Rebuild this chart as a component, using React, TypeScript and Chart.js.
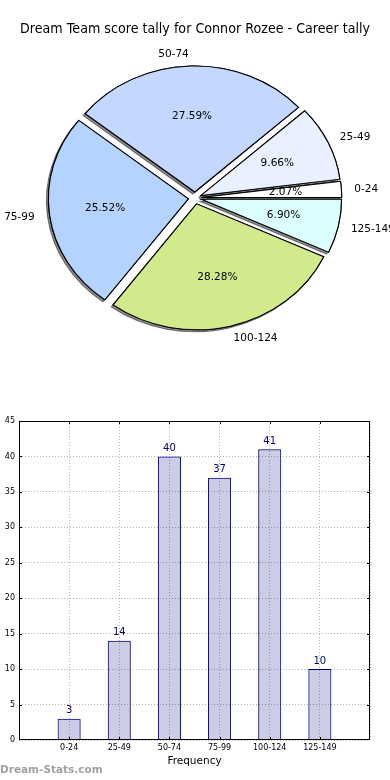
import React, { useEffect, useRef } from 'react';
import { Chart, registerables } from 'chart.js';

Chart.register(...registerables);

// ---------- data ----------
const TITLE = 'Dream Team score tally for Connor Rozee - Career tally';
const categories = ['0-24', '25-49', '50-74', '75-99', '100-124', '125-149'];
const frequencies = [3, 14, 40, 37, 41, 10];
const pieColors = ['#ffffff', '#e9f0ff', '#c4d8ff', '#b4d4ff', '#d0ea8c', '#dbffff'];
const X_AXIS_TITLE = 'Frequency';
const Y_MAX = 45;
const Y_STEP = 5;
const WATERMARK = 'Dream-Stats.com';

// ---------- styles ----------
const FONT = "'DejaVu Sans', sans-serif";
const SX = 140 / 126; // horizontal stretch of the pie (non-equal aspect)
const EXPLODE = 6;
const PIE_RADIUS = 126;

// pie drawn counter-clockwise from east: reverse order, clockwise from east
const pieLabels = [...categories].reverse();
const pieValues = [...frequencies].reverse();
const pieFill = [...pieColors].reverse();

const piePlugin = {
  id: 'mplPie',
  beforeDatasetsDraw(chart: any) {
    const ctx = chart.ctx as CanvasRenderingContext2D;
    const meta = chart.getDatasetMeta(0);
    const arcs = meta.data as any[];
    if (!arcs.length) return false;
    const cx = arcs[0].x;
    const cy = arcs[0].y;
    const data = chart.data.datasets[0].data as number[];
    const total = data.reduce((a, b) => a + b, 0);

    ctx.save();
    ctx.translate(cx, cy);
    ctx.scale(SX, 1);
    ctx.translate(-cx, -cy);
    // shadow pass
    arcs.forEach((arc) => {
      const mid = (arc.startAngle + arc.endAngle) / 2;
      ctx.save();
      ctx.translate(Math.cos(mid) * EXPLODE, Math.sin(mid) * EXPLODE);
      ctx.shadowColor = 'rgba(0,0,0,0.45)';
      ctx.shadowBlur = 0;
      ctx.shadowOffsetX = -2;
      ctx.shadowOffsetY = 2;
      arc.draw(ctx);
      ctx.restore();
    });
    // normal pass
    arcs.forEach((arc) => {
      const mid = (arc.startAngle + arc.endAngle) / 2;
      ctx.save();
      ctx.translate(Math.cos(mid) * EXPLODE, Math.sin(mid) * EXPLODE);
      arc.draw(ctx);
      ctx.restore();
    });
    ctx.restore();

    // labels
    ctx.save();
    ctx.fillStyle = '#000';
    ctx.font = `10.5px ${FONT}`;
    ctx.textBaseline = 'middle';
    arcs.forEach((arc, i) => {
      const mid = (arc.startAngle + arc.endAngle) / 2;
      const R = arc.outerRadius;
      const c = Math.cos(mid);
      const s = Math.sin(mid);
      const rl = EXPLODE + 1.1 * R;
      ctx.textAlign = c > 0 ? 'left' : 'right';
      ctx.fillText(String(chart.data.labels[i]), cx + SX * c * rl - 1, cy + s * rl + 0.5);
      const rp = EXPLODE + 0.6 * R;
      ctx.textAlign = 'center';
      ctx.fillText(((data[i] / total) * 100).toFixed(2) + '%', cx + SX * c * rp, cy + s * rp);
    });
    ctx.restore();
    return false;
  },
};

const barPlugin = {
  id: 'mplBar',
  afterDatasetsDraw(chart: any) {
    const ctx = chart.ctx as CanvasRenderingContext2D;
    const { left, right, top, bottom } = chart.chartArea;
    const xs = chart.scales.x;
    const ys = chart.scales.y;
    ctx.save();
    // tick marks (inward, all four sides)
    ctx.strokeStyle = '#000';
    ctx.lineWidth = 1;
    ctx.beginPath();
    xs.ticks.forEach((_t: any, i: number) => {
      const px = Math.round(xs.getPixelForTick(i)) + 0.5;
      if (px <= left + 1 || px >= right - 1) return;
      ctx.moveTo(px, top);
      ctx.lineTo(px, top + 3);
      ctx.moveTo(px, bottom);
      ctx.lineTo(px, bottom - 3);
    });
    ys.ticks.forEach((t: any) => {
      const py = Math.round(ys.getPixelForValue(t.value)) + 0.5;
      if (py <= top + 1 || py >= bottom - 1) return;
      ctx.moveTo(left, py);
      ctx.lineTo(left + 3, py);
      ctx.moveTo(right, py);
      ctx.lineTo(right - 3, py);
    });
    ctx.stroke();
    // frame
    ctx.strokeRect(Math.round(left) + 0.5, Math.round(top) + 0.5, Math.round(right) - Math.round(left) - 1, Math.round(bottom) - Math.round(top) - 1);
    // value labels
    const meta = chart.getDatasetMeta(0);
    const vals = chart.data.datasets[0].data as (number | null)[];
    ctx.fillStyle = '#000080';
    ctx.font = `10px ${FONT}`;
    ctx.textAlign = 'center';
    ctx.textBaseline = 'bottom';
    meta.data.forEach((bar: any, i: number) => {
      const v = vals[i];
      if (v == null) return;
      ctx.fillText(String(v), bar.x, bar.y - 3);
    });
    ctx.restore();
  },
};

export default function App() {
  const pieRef = useRef<HTMLCanvasElement>(null);
  const barRef = useRef<HTMLCanvasElement>(null);

  useEffect(() => {
    const pie = new Chart(pieRef.current as HTMLCanvasElement, {
      type: 'pie',
      data: {
        labels: pieLabels,
        datasets: [
          {
            data: pieValues,
            backgroundColor: pieFill,
            borderColor: '#000',
            borderWidth: 1,
            borderJoinStyle: 'miter',
            radius: PIE_RADIUS,
            clip: false,
          } as any,
        ],
      },
      options: {
        responsive: false,
        animation: false,
        events: [],
        rotation: 90,
        layout: { padding: { left: 20, right: 20, top: 0, bottom: 69 } },
        plugins: {
          legend: { display: false },
          tooltip: { enabled: false },
          title: {
            display: true,
            text: TITLE,
            color: '#000',
            font: { family: FONT, size: 13.3, weight: 'normal' },
            padding: { top: 22, bottom: 27 },
          },
        },
      } as any,
      plugins: [piePlugin],
    });

    const gridCommon = { color: '#b4b4b4', lineWidth: 1, drawTicks: false, offset: false };
    const bar = new Chart(barRef.current as HTMLCanvasElement, {
      type: 'bar',
      data: {
        labels: ['', ...categories, ''],
        datasets: [
          {
            data: [null, ...frequencies, null],
            backgroundColor: 'rgba(0,0,128,0.2)',
            borderColor: '#000080',
            borderWidth: 1,
            barPercentage: 0.46,
            categoryPercentage: 1,
          } as any,
        ],
      },
      options: {
        responsive: false,
        animation: false,
        events: [],
        layout: { padding: { left: 0, right: 20, top: 16, bottom: 0 } },
        plugins: { legend: { display: false }, tooltip: { enabled: false } },
        scales: {
          x: {
            offset: false,
            grid: gridCommon,
            border: { display: false, dash: [1, 2] },
            ticks: { font: { family: FONT, size: 8 }, color: '#000', padding: 3, autoSkip: false, maxRotation: 0 },
            title: {
              display: true,
              text: X_AXIS_TITLE,
              color: '#000',
              font: { family: FONT, size: 10.5 },
              padding: { top: 0, bottom: 12.7 },
            },
            afterFit: (s: any) => {
              s.height = 40;
            },
          },
          y: {
            min: 0,
            max: Y_MAX,
            grid: gridCommon,
            border: { display: false, dash: [1, 2] },
            ticks: { stepSize: Y_STEP, font: { family: FONT, size: 8 }, color: '#000', padding: 4 },
            afterFit: (s: any) => {
              s.width = 19;
            },
          },
        },
      } as any,
      plugins: [barPlugin],
    });

    return () => {
      pie.destroy();
      bar.destroy();
    };
  }, []);

  return (
    <div style={{ position: 'absolute', left: 0, top: 0, width: 390, height: 780, background: '#fff', overflow: 'hidden' }}>
      <canvas ref={pieRef} width={390} height={400} style={{ position: 'absolute', left: 0, top: 0, width: 390, height: 400 }} />
      <canvas ref={barRef} width={390} height={375} style={{ position: 'absolute', left: 0, top: 405, width: 390, height: 375 }} />
      <div
        style={{
          position: 'absolute',
          left: 0,
          top: 762,
          font: `bold 10.5px ${FONT}`,
          color: '#a0a0a0',
          lineHeight: '14px',
          whiteSpace: 'nowrap',
        }}
      >
        {WATERMARK}
      </div>
    </div>
  );
}
